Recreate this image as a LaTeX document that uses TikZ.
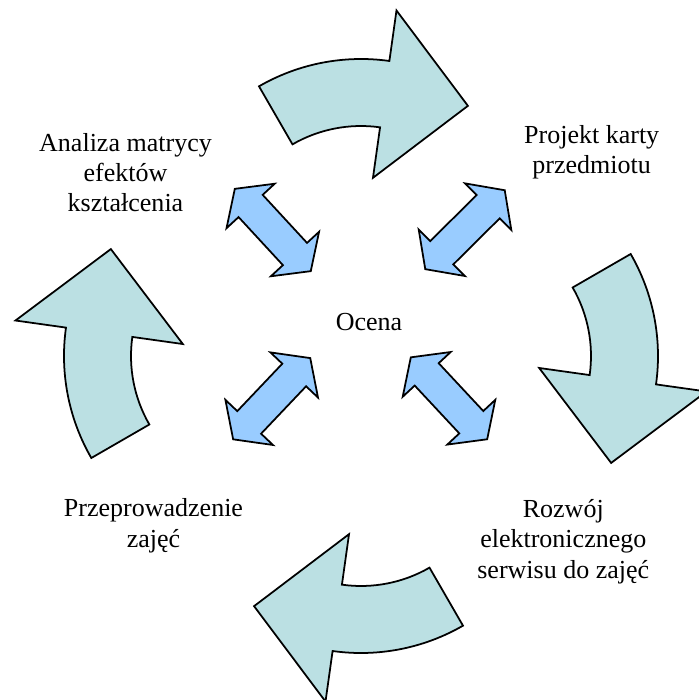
\documentclass[tikz,border=0pt]{standalone}
\usepackage{fontspec}
\setmainfont{Liberation Serif}
\usepackage{tikz}
\usetikzlibrary{calc}

\definecolor{cyclefill}{RGB}{187,224,227}
\definecolor{dblfill}{RGB}{153,204,255}

\begin{document}
\begin{tikzpicture}[ x=0.02cm, y=0.02cm,
  cyclearrow/.style={draw=black, line width=1pt, fill=cyclefill},
  dblarrow/.style={draw=black, line width=1pt, fill=dblfill},
  lbl/.style={font=\fontsize{14.8}{17.1}\selectfont, align=center, inner sep=0pt, anchor=base} ]

\useasboundingbox (-361,-344) rectangle (338,356);

%Cycle arrows
\foreach \a in {0,-90,-180,-270}{
\begin{scope}[rotate=\a, shift={(0,93)}]
     \draw[cyclearrow] (120:204) arc (120:82:204)
          -- (82:255)
          -- ($(82:170.5)+(-8:84)$)
          -- (82:86)
          -- (82:137) arc (82:120:137) -- cycle;
\end{scope}
}

%Double arrows
\foreach \cx/\cy/\r in {-88.2/126/132.7, 104/126.3/44.8, -89.3/-42.7/46.5, 88/-42.3/-47}{
\begin{scope}[shift={(\cx,\cy)}, rotate=\r]
     \draw[dblarrow] (56,0) -- (32.7,32.8) -- (32.7,16.4) -- (-32.7,16.4)
          -- (-32.7,32.8) -- (-56,0) -- (-32.7,-32.8) -- (-32.7,-16.4)
          -- (32.7,-16.4) -- (32.7,-32.8) -- cycle;
\end{scope}
}

% Labels (base = last line)
\node[lbl] (Ocena) at (8,25.3) {Ocena};
\node[lbl] (Analiza) at (-235.5,144) {Analiza matrycy\\efektów\\kształcenia};
\node[lbl] (Projekt) at (230.7,182.5) {Projekt karty\\przedmiotu};
\node[lbl] (Rozwoj) at (202.3,-222) {Rozwój\\elektronicznego\\serwisu do zajęć};
\node[lbl] (Przeprowadzenie) at (-207.5,-191) {Przeprowadzenie\\zajęć};

\end{tikzpicture}
\end{document}
